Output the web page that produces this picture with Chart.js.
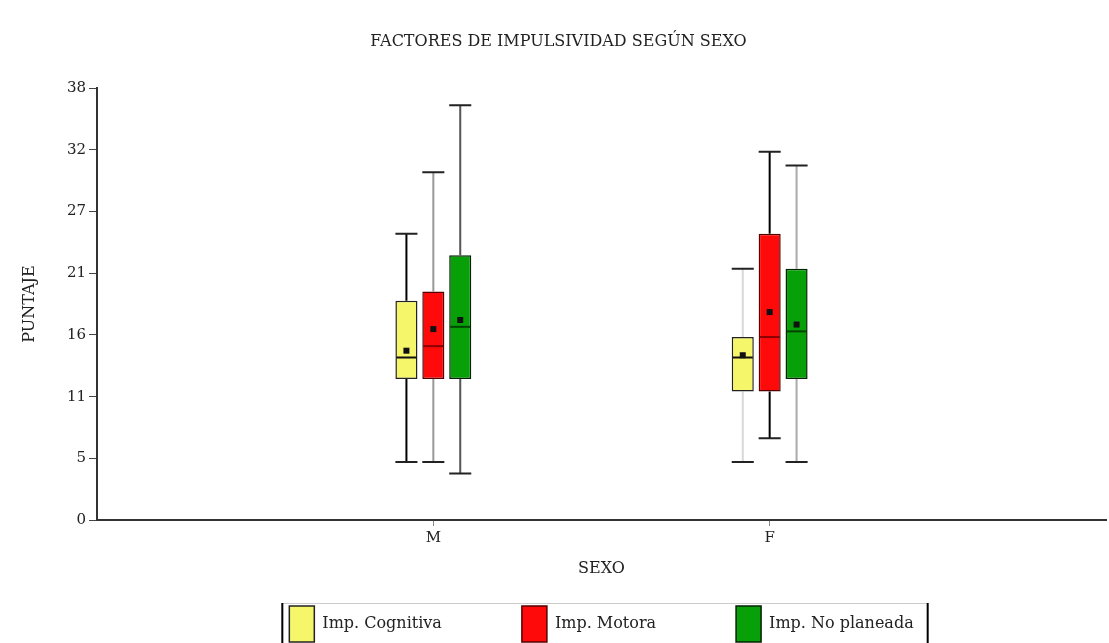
<!DOCTYPE html>
<html>
<head>
<meta charset="utf-8">
<style>
  html, body { margin: 0; padding: 0; background: #fff; }
  #wrap { width: 1109px; height: 643px; }
</style>
<script src="https://cdn.jsdelivr.net/npm/chart.js@4.4.1/dist/chart.umd.min.js"></script>
</head>
<body>
<div id="wrap"><canvas id="chart"></canvas></div>
<script>
// datos (boxplot por sexo)
const categories = ['M', 'F'];
const seriesNames = ['Imp. Cognitiva', 'Imp. Motora', 'Imp. No planeada'];
const minVals    = [[5.1, 5.1], [5.1, 7.2], [4.1, 5.1]];
const q1Vals     = [[12.4, 11.3], [12.4, 11.3], [12.4, 12.4]];
const medianVals = [[14.3, 14.3], [15.3, 16.1], [17.0, 16.6]];
const meanVals   = [[14.9, 14.5], [16.8, 18.3], [17.6, 17.2]];
const q3Vals     = [[19.3, 16.1], [20.1, 25.2], [23.3, 22.1]];
const maxVals    = [[25.2, 22.1], [30.6, 32.4], [36.5, 31.2]];
const yTickLabels = ['0', '5', '11', '16', '21', '27', '32', '38'];
const yMax = 38;

const fills = ['#f6f66a', '#ff0a0a', '#08a008'];
const borders = ['#222', '#500', '#020'];
const medianColors = ['#111', '#8a0000', '#004400'];
const whiskerColors = [['#000', '#d8d8d8'], ['#999', '#000'], ['#555', '#aaa']];

const FONT = "'DejaVu Serif', 'Liberation Serif', serif";

// eje x: un hueco a cada lado, como en el original
const xLabels = [''].concat(categories, ['']);

const datasets = seriesNames.map((name, i) => ({
  label: name,
  data: categories.map((c, j) => ({ x: c, y: [q1Vals[i][j], q3Vals[i][j]] })),
  backgroundColor: fills[i],
  borderColor: borders[i],
  borderWidth: 1.5,
  borderSkipped: false,
  categoryPercentage: 0.24,
  barPercentage: 0.82,
}));

const boxExtras = {
  id: 'boxExtras',
  beforeDatasetsDraw(chart) {
    const ctx = chart.ctx;
    const y = chart.scales.y;
    chart.data.datasets.forEach((ds, i) => {
      chart.getDatasetMeta(i).data.forEach((bar, j) => {
        const x = bar.x, w = bar.width;
        ctx.save();
        ctx.strokeStyle = whiskerColors[i][j];
        ctx.lineWidth = 2;
        ctx.beginPath();
        ctx.moveTo(x, y.getPixelForValue(q3Vals[i][j]));
        ctx.lineTo(x, y.getPixelForValue(maxVals[i][j]));
        ctx.moveTo(x, y.getPixelForValue(q1Vals[i][j]));
        ctx.lineTo(x, y.getPixelForValue(minVals[i][j]));
        ctx.stroke();
        ctx.strokeStyle = '#222';
        ctx.beginPath();
        [maxVals[i][j], minVals[i][j]].forEach(v => {
          const py = y.getPixelForValue(v);
          ctx.moveTo(x - w / 2, py);
          ctx.lineTo(x + w / 2, py);
        });
        ctx.stroke();
        ctx.restore();
      });
    });
  },
  afterDatasetsDraw(chart) {
    const ctx = chart.ctx;
    const y = chart.scales.y;
    chart.data.datasets.forEach((ds, i) => {
      chart.getDatasetMeta(i).data.forEach((bar, j) => {
        const x = bar.x, w = bar.width;
        ctx.save();
        ctx.strokeStyle = medianColors[i];
        ctx.lineWidth = 2;
        const my = y.getPixelForValue(medianVals[i][j]);
        ctx.beginPath();
        ctx.moveTo(x - w / 2 + 1, my);
        ctx.lineTo(x + w / 2 - 1, my);
        ctx.stroke();
        const ay = y.getPixelForValue(meanVals[i][j]);
        ctx.fillStyle = '#111';
        ctx.fillRect(x - 3, ay - 3, 6, 6);
        ctx.restore();
      });
    });
  },
  afterDraw(chart) {
    // marco de la leyenda
    const lg = chart.legend;
    if (!lg || !lg.legendHitBoxes.length) return;
    const boxes = lg.legendHitBoxes;
    const last = boxes[boxes.length - 1];
    const left = boxes[0].left - 7;
    const right = last.left + last.width + 14;
    const top = boxes[0].top - 3;
    const ctx = chart.ctx;
    ctx.save();
    ctx.strokeStyle = '#ccc';
    ctx.lineWidth = 1;
    ctx.beginPath();
    ctx.moveTo(left, top + 0.5);
    ctx.lineTo(right, top + 0.5);
    ctx.stroke();
    ctx.strokeStyle = '#000';
    ctx.lineWidth = 2;
    ctx.beginPath();
    ctx.moveTo(left, top);
    ctx.lineTo(left, chart.height);
    ctx.moveTo(right, top);
    ctx.lineTo(right, chart.height);
    ctx.stroke();
    ctx.restore();
  }
};

new Chart(document.getElementById('chart'), {
  type: 'bar',
  data: { labels: xLabels, datasets: datasets },
  plugins: [boxExtras],
  options: {
    responsive: true,
    maintainAspectRatio: false,
    animation: false,
    layout: { padding: { left: 8, right: 0, top: 18, bottom: 0 } },
    plugins: {
      title: {
        display: true,
        text: 'FACTORES DE IMPULSIVIDAD SEGÚN SEXO',
        color: '#222',
        font: { family: FONT, size: 16, weight: 'normal' },
        padding: { top: 14, bottom: 37 },
      },
      legend: {
        position: 'bottom',
        fullSize: false,
        maxHeight: 91,
        // titulo vacio para acercar los items al eje sin perder el espacio horizontal
        title: { display: true, text: ' ', font: { size: 10 }, padding: { top: 0, bottom: -38 } },
        labels: {
          color: '#222',
          font: { family: FONT, size: 16 },
          boxWidth: 25,
          boxHeight: 36,
          padding: 80,
        },
      },
      tooltip: { enabled: false },
    },
    scales: {
      x: {
        offset: false,
        afterFit(scale) { scale.height = 32; },
        border: { display: true, color: '#333', width: 2 },
        grid: {
          offset: false,
          drawOnChartArea: false,
          tickLength: 6,
          color: ctx => (ctx.tick && xLabels[ctx.index] ? '#888' : 'rgba(0,0,0,0)'),
        },
        ticks: { color: '#222', font: { family: FONT, size: 15 }, autoSkip: false, maxRotation: 0 },
        title: {
          display: true,
          text: 'SEXO',
          color: '#222',
          font: { family: FONT, size: 16 },
          padding: { top: 0, bottom: -26 },
        },
      },
      y: {
        min: 0,
        max: yMax,
        afterFit(scale) { scale.width = 89; },
        border: { display: true, color: '#333', width: 2 },
        grid: { drawOnChartArea: false, tickLength: 8, color: '#444' },
        afterBuildTicks(scale) {
          scale.ticks = yTickLabels.map((t, k) => ({ value: k * yMax / (yTickLabels.length - 1) }));
        },
        ticks: {
          color: '#222',
          font: { family: FONT, size: 15 },
          callback: (v, k) => yTickLabels[k],
        },
        title: {
          display: true,
          text: 'PUNTAJE',
          color: '#222',
          font: { family: FONT, size: 16 },
          padding: { top: 12, bottom: 0 },
        },
      },
    },
  },
});
</script>
</body>
</html>
